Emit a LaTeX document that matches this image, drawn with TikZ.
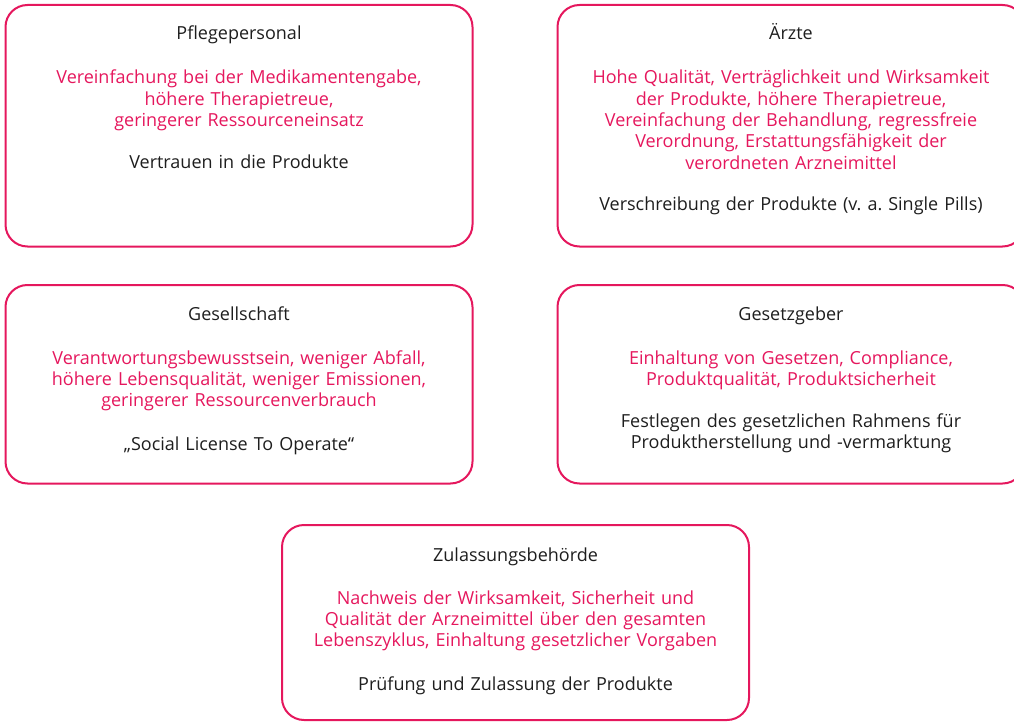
\documentclass[tikz,border=0pt]{standalone}
\usepackage{fontspec}
\setmainfont{Open Sans}
\frenchspacing
\definecolor{pinkc}{HTML}{E5175D}
\definecolor{darkt}{HTML}{1E1E1E}
\begin{document}
\begin{tikzpicture}[x=1pt,y=-1pt,
  box/.style={draw=pinkc, line width=2pt, rounded corners=22pt, minimum width=467pt, inner sep=0pt},
  ttl/.style={anchor=base, text=darkt, inner sep=0pt, font=\fontsize{18}{21.3}\selectfont},
  ben/.style={anchor=base, text=pinkc, inner sep=0pt, text width=460pt, align=center, font=\fontsize{18}{21.3}\selectfont},
  con/.style={anchor=base, text=darkt, inner sep=0pt, text width=460pt, align=center, font=\fontsize{18}{21.3}\selectfont}]
\useasboundingbox (0,0) rectangle (1014,722);
% boxes
\node[box, minimum height=241.5pt] (b1) at (239,125.75) {};
\node[box, minimum height=241.5pt] (b2) at (791,125.75) {};
\node[box, minimum height=198.5pt] (b3) at (239,384.25) {};
\node[box, minimum height=198.5pt] (b4) at (791,384.25) {};
\node[box, minimum height=195pt] (b5) at (515.5,622.5) {};
% Pflegepersonal
\node[ttl] (t1) at (239,40) {Pflegepersonal};
\node[ben] (p1) at (239,84) {Vereinfachung bei der Medikamentengabe,\\höhere Therapietreue,\\geringerer Ressourceneinsatz};
\node[con] (c1) at (239,169) {Vertrauen in die Produkte};
% Aerzte
\node[ttl] (t2) at (791,40) {Ärzte};
\node[ben] (p2) at (791,84) {Hohe Qualität, Verträglichkeit und Wirksamkeit\\der Produkte, höhere Therapietreue,\\Vereinfachung der Behandlung, regressfreie\\Verordnung, Erstattungsfähigkeit der\\verordneten Arzneimittel};
\node[con] (c2) at (791,210.5) {Verschreibung der Produkte (v. a. Single Pills)};
% Gesellschaft
\node[ttl] (t3) at (239,320) {Gesellschaft};
\node[ben] (p3) at (239,364) {Verantwortungsbewusstsein, weniger Abfall,\\höhere Lebensqualität, weniger Emissionen,\\geringerer Ressourcenverbrauch};
\node[con] (c3) at (239,450) {„Social License To Operate“};
% Gesetzgeber
\node[ttl] (t4) at (791,320) {Gesetzgeber};
\node[ben] (p4) at (791,364) {Einhaltung von Gesetzen, Compliance,\\Produktqualität, Produktsicherheit};
\node[con] (c4) at (791,427) {Festlegen des gesetzlichen Rahmens für\\Produktherstellung und -vermarktung};
% Zulassungsbehoerde
\node[ttl] (t5) at (515.5,561) {Zulassungsbehörde};
\node[ben] (p5) at (515.5,604) {Nachweis der Wirksamkeit, Sicherheit und\\Qualität der Arzneimittel über den gesamten\\Lebenszyklus, Einhaltung gesetzlicher Vorgaben};
\node[con] (c5) at (515.5,690) {Prüfung und Zulassung der Produkte};
\end{tikzpicture}
\end{document}
